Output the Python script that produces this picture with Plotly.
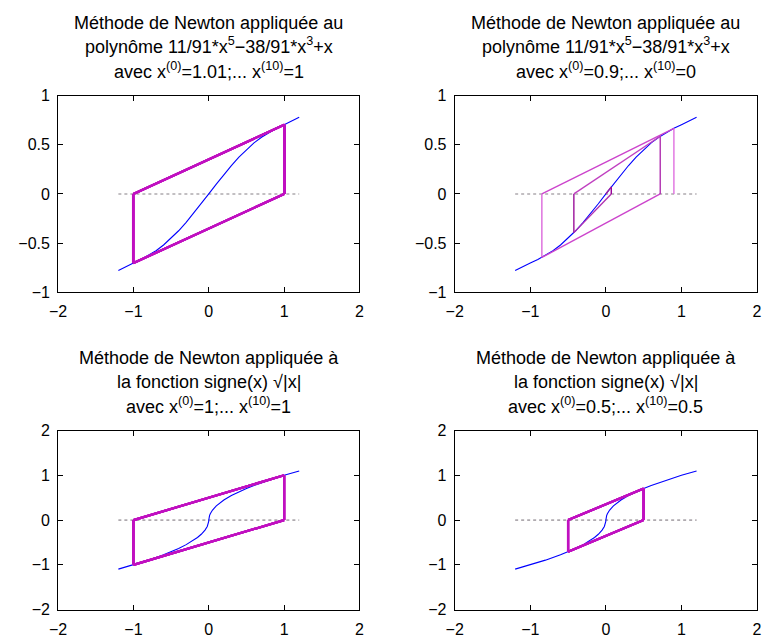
import plotly.graph_objects as go

# ---------------- data ----------------
poly_x = [-1.2, -1.1, -1.0, -0.9, -0.8, -0.7, -0.6, -0.5, -0.4, -0.3, -0.2, -0.1, 0.0,
          0.1, 0.2, 0.3, 0.4, 0.5, 0.6, 0.7, 0.8, 0.9, 1.0, 1.1, 1.2]
poly_y = [-0.7792, -0.7389, -0.7033, -0.6670, -0.6258, -0.5771, -0.5192, -0.4516, -0.3745,
          -0.2890, -0.1967, -0.0996, 0.0,
          0.0996, 0.1967, 0.2890, 0.3745, 0.4516, 0.5192, 0.5771, 0.6258, 0.6670, 0.7033, 0.7389, 0.7792]

sqrt_x = [-1.2, -1.0, -0.8, -0.6, -0.5, -0.4, -0.3, -0.2, -0.15, -0.1, -0.05, -0.02, -0.01, -0.005, -0.001, 0.0,
          0.001, 0.005, 0.01, 0.02, 0.05, 0.1, 0.15, 0.2, 0.3, 0.4, 0.5, 0.6, 0.8, 1.0, 1.2]
sqrt_y = [-1.0954, -1.0, -0.8944, -0.7746, -0.7071, -0.6325, -0.5477, -0.4472, -0.3873, -0.3162, -0.2236,
          -0.1414, -0.1, -0.0707, -0.0316, 0.0,
          0.0316, 0.0707, 0.1, 0.1414, 0.2236, 0.3162, 0.3873, 0.4472, 0.5477, 0.6325, 0.7071, 0.7746,
          0.8944, 1.0, 1.0954]

zero_x = [-1.2, 1.2]
zero_y = [0.0, 0.0]

# Newton iterates x(0) ... x(10) and the function value at each
it1_x = [1.01, -1.005, 1.0025, -1.0012, 1.0006, -1.0003, 1.0002, -1.0001, 1.0, -1.0, 1.0]
it1_y = [0.7068, -0.7051, 0.7042, -0.7037, 0.7035, -0.7034, 0.7034, -0.7033, 0.7033, -0.7033, 0.7033]

it2_x = [0.9, -0.8468, 0.7191, -0.4235, 0.0715, -0.0003, 0.0, 0.0, 0.0, 0.0, 0.0]
it2_y = [0.6670, -0.6459, 0.5871, -0.3934, 0.0713, -0.0003, 0.0, 0.0, 0.0, 0.0, 0.0]

it3_x = [1.0, -1.0, 1.0, -1.0, 1.0, -1.0, 1.0, -1.0, 1.0, -1.0, 1.0]
it3_y = [1.0, -1.0, 1.0, -1.0, 1.0, -1.0, 1.0, -1.0, 1.0, -1.0, 1.0]

it4_x = [0.5, -0.5, 0.5, -0.5, 0.5, -0.5, 0.5, -0.5, 0.5, -0.5, 0.5]
it4_y = [0.7071, -0.7071, 0.7071, -0.7071, 0.7071, -0.7071, 0.7071, -0.7071, 0.7071, -0.7071, 0.7071]

vert_colors = ["#e070e0", "#dc68dc", "#b030b0", "#9a109a", "#960096", "#960096",
               "#960096", "#960096", "#960096", "#960096", "#960096"]
tan_colors = ["#cc44cc", "#cc44cc", "#c040c0", "#b030b0", "#a020a0", "#a020a0",
              "#a020a0", "#a020a0", "#a020a0", "#a020a0", "#a020a0"]
cycle_color = "#c010c0"

x_ticks = [-2, -1, 0, 1, 2]
x_ticktext = ["\u22122", "\u22121", "0", "1", "2"]
y_ticks_top = [-1, -0.5, 0, 0.5, 1]
y_ticktext_top = ["\u22121", "\u22120.5", "0", "0.5", "1"]
y_ticks_bot = [-2, -1, 0, 1, 2]
y_ticktext_bot = ["\u22122", "\u22121", "0", "1", "2"]

titles = [
    ["Méthode de Newton appliquée au",
     "polynôme 11/91*x<sup>5</sup>\u221238/91*x<sup>3</sup>+x",
     "avec x<sup>(0)</sup>=1.01;... x<sup>(10)</sup>=1"],
    ["Méthode de Newton appliquée au",
     "polynôme 11/91*x<sup>5</sup>\u221238/91*x<sup>3</sup>+x",
     "avec x<sup>(0)</sup>=0.9;... x<sup>(10)</sup>=0"],
    ["Méthode de Newton appliquée à",
     "la fonction signe(x) \u221a|x|",
     "avec x<sup>(0)</sup>=1;... x<sup>(10)</sup>=1"],
    ["Méthode de Newton appliquée à",
     "la fonction signe(x) \u221a|x|",
     "avec x<sup>(0)</sup>=0.5;... x<sup>(10)</sup>=0.5"],
]

# ---------------- layout geometry (pixels) ----------------
W, H = 765, 643
FONT = "Liberation Sans, Arial, Helvetica, sans-serif"
boxes = [  # left, right, top, bottom in px
    (50, 357, 90, 292),
    (454, 762, 90, 292),
    (50, 357, 434, 618),
    (454, 762, 434, 618),
]
title_bottoms = [[27, 51, 77], [27, 51, 77], [371, 395, 421], [371, 395, 421]]

fig = go.Figure()


def add_path(idx, xs, ys, cyc):
    xa = "x" if idx == 0 else f"x{idx+1}"
    ya = "y" if idx == 0 else f"y{idx+1}"
    n = len(xs)
    for k in range(n):
        vc = cycle_color if cyc else vert_colors[k]
        tc = cycle_color if cyc else tan_colors[k]
        w = 2.2 if cyc else 1.4
        fig.add_trace(go.Scatter(x=[xs[k], xs[k]], y=[0, ys[k]], mode="lines",
                                 line=dict(color=vc, width=w), xaxis=xa, yaxis=ya,
                                 showlegend=False, hoverinfo="skip"))
        if k + 1 < n:
            fig.add_trace(go.Scatter(x=[xs[k], xs[k + 1]], y=[ys[k], 0], mode="lines",
                                     line=dict(color=tc, width=w), xaxis=xa, yaxis=ya,
                                     showlegend=False, hoverinfo="skip"))


curves = [(poly_x, poly_y), (poly_x, poly_y), (sqrt_x, sqrt_y), (sqrt_x, sqrt_y)]
iters = [(it1_x, it1_y, True), (it2_x, it2_y, False), (it3_x, it3_y, True), (it4_x, it4_y, True)]

for i in range(4):
    xa = "x" if i == 0 else f"x{i+1}"
    ya = "y" if i == 0 else f"y{i+1}"
    fig.add_trace(go.Scatter(x=zero_x, y=zero_y, mode="lines",
                             line=dict(color="rgb(175,170,175)", width=1.6, dash="dot"),
                             xaxis=xa, yaxis=ya, showlegend=False, hoverinfo="skip"))
    cx, cy = curves[i]
    fig.add_trace(go.Scatter(x=cx, y=cy, mode="lines", line=dict(color="#0000ff", width=1.1),
                             xaxis=xa, yaxis=ya, showlegend=False, hoverinfo="skip"))
    ix, iy, cyc = iters[i]
    add_path(i, ix, iy, cyc)

layout = dict(width=W, height=H, margin=dict(l=0, r=0, t=0, b=0),
              paper_bgcolor="white", plot_bgcolor="white",
              font=dict(family=FONT, size=16, color="black"), showlegend=False)

annotations = []
for i, (l, r, t, b) in enumerate(boxes):
    sx = "" if i == 0 else str(i + 1)
    top = i < 2
    layout["xaxis" + sx] = dict(
        domain=[l / W, r / W], anchor="y" + sx, range=[-2, 2],
        tickmode="array", tickvals=x_ticks, ticktext=x_ticktext,
        ticks="inside", ticklen=5, tickcolor="black", showline=True, linecolor="black",
        linewidth=1, mirror="ticks", showgrid=False, zeroline=False, ticklabelstandoff=5,
        tickfont=dict(size=16, family=FONT, color="black"), fixedrange=True)
    layout["yaxis" + sx] = dict(
        domain=[1 - b / H, 1 - t / H], anchor="x" + sx,
        range=[-1, 1] if top else [-2, 2],
        tickmode="array", tickvals=y_ticks_top if top else y_ticks_bot,
        ticktext=y_ticktext_top if top else y_ticktext_bot,
        ticks="inside", ticklen=5, tickcolor="black", showline=True, linecolor="black",
        linewidth=1, mirror="ticks", showgrid=False, zeroline=False, ticklabelstandoff=4,
        tickfont=dict(size=16, family=FONT, color="black"), fixedrange=True)
    cxp = (l + r) / 2 / W
    for j, line in enumerate(titles[i]):
        annotations.append(dict(text=line, x=cxp, y=1 - title_bottoms[i][j] / H,
                                xref="paper", yref="paper", xanchor="center", yanchor="bottom",
                                showarrow=False, borderpad=0,
                                font=dict(size=18, family=FONT, color="black")))
layout["annotations"] = annotations
fig.update_layout(**layout)

fig.write_html("out.html")
